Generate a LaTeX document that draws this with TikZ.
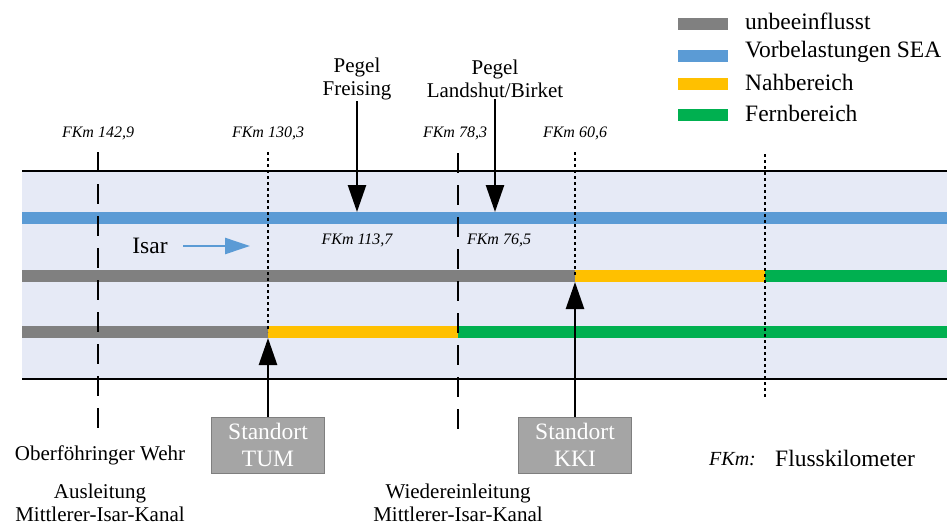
\documentclass[tikz,border=0pt]{standalone}
\usepackage{fontspec}
\setmainfont{Liberation Serif}
\usetikzlibrary{arrows.meta}
\definecolor{grau}{HTML}{808080}
\definecolor{sea}{HTML}{5B9BD5}
\definecolor{nah}{HTML}{FFC000}
\definecolor{fern}{HTML}{00B050}
\definecolor{fluss}{HTML}{E6EAF6}
\definecolor{kasten}{HTML}{A5A5A5}
\definecolor{rand}{HTML}{7F7F7F}

\begin{document}
\begin{tikzpicture}[x=1pt,y=-1pt,
  fkm/.style={font=\fontsize{16}{18}\selectfont\itshape, inner sep=1pt},
  txt/.style={font=\fontsize{21}{23}\selectfont, align=center, inner sep=1pt},
  leg/.style={font=\fontsize{23.5}{26}\selectfont, anchor=west, inner sep=0pt},
  swatch/.style={minimum width=50pt, minimum height=12pt, inner sep=0pt},
  strang/.style={line width=12pt},
  grenze/.style={line width=2.5pt, dash pattern=on 20pt off 12pt},
  punkt/.style={line width=2.5pt, dash pattern=on 3pt off 3pt},
  pfeil/.style={line width=2.5pt, -{Triangle[length=27pt,width=18pt]}},
  standort/.style={draw=rand, fill=kasten, text=white, minimum width=113pt,
    minimum height=56pt, align=center, font=\fontsize{23.5}{27}\selectfont, inner sep=0pt}]

\useasboundingbox (0,0) rectangle (947,525);

% Fluss
\fill[fluss] (22,171) rectangle (947,379);
\draw[line width=2pt] (22,171) -- (947,171);
\draw[line width=2pt] (22,379) -- (947,379);

% Straenge
\coordinate (a0) at (22,218);
\coordinate (a1) at (947,218);
\coordinate (b0) at (22,276);
\coordinate (b1) at (575,276);
\coordinate (b2) at (765,276);
\coordinate (b3) at (947,276);
\coordinate (c0) at (22,332);
\coordinate (c1) at (268,332);
\coordinate (c2) at (458,332);
\coordinate (c3) at (947,332);
\draw[strang, sea] (a0) -- (a1);
\draw[strang, grau] (b0) -- (b1);
\draw[strang, nah] (b1) -- (b2);
\draw[strang, fern] (b2) -- (b3);
\draw[strang, grau] (c0) -- (c1);
\draw[strang, nah] (c1) -- (c2);
\draw[strang, fern] (c2) -- (c3);

% Flusskilometer
\node[fkm] (k1) at (98,133) {FKm 142,9};
\node[fkm] (k2) at (268,133) {FKm 130,3};
\node[fkm] (k3) at (455,133) {FKm 78,3};
\node[fkm] (k4) at (575,133) {FKm 60,6};

\draw[grenze] (98,152) -- (98,428);
\draw[punkt] (268,152) -- (c1);
\draw[grenze] (458,153) -- (458,429);
\draw[punkt] (575,152) -- (b1);
\draw[punkt] (765,154) -- (765,398);

% Pegel
\node[txt] (pf) at (357,79) {Pegel\\Freising};
\node[txt] (pl) at (495,79) {Pegel\\Landshut/Birket};
\coordinate (pf0) at (357,212);
\coordinate (pl0) at (495,212);
\draw[pfeil] (pf.south) -- (pf0);
\draw[pfeil] (pl.south) -- (pl0);
\node[fkm] (k6) at (357,240) {FKm 113,7};
\node[fkm] (k7) at (499,240) {FKm 76,5};

% Isar
\node[font=\fontsize{23.5}{26}\selectfont] (isar) at (150,246) {Isar};
\coordinate (i0) at (183,246);
\coordinate (i1) at (250,246);
\draw[line width=2.5pt, sea, -{Triangle[length=25pt,width=16pt]}] (i0) -- (i1);

% Standorte
\node[standort] (tum) at (268,445) {Standort\\TUM};
\node[standort] (kki) at (575,445) {Standort\\KKI};
\coordinate (tum0) at (268,338);
\coordinate (kki0) at (575,282);
\draw[pfeil] (tum.north) -- (tum0);
\draw[pfeil] (kki.north) -- (kki0);

% Beschriftung unten
\node[txt] (wehr) at (100,455) {Oberföhringer Wehr};
\node[txt] (aus) at (100,503) {Ausleitung\\Mittlerer-Isar-Kanal};
\node[txt] (ein) at (458,503) {Wiedereinleitung\\Mittlerer-Isar-Kanal};
\node[fkm, font=\fontsize{20}{22}\selectfont\itshape, anchor=west] (fk) at (708,459) {FKm:};
\node[leg] (fkt) at (775,458) {Flusskilometer};

% Legende
\node[swatch, fill=grau] (g1) at (703,24) {};
\node[swatch, fill=sea] (g2) at (703,56) {};
\node[swatch, fill=nah] (g3) at (703,84) {};
\node[swatch, fill=fern] (g4) at (703,115) {};
\node[leg] (t1) at (745,21) {unbeeinflusst};
\node[leg] (t2) at (745,52) {Vorbelastungen SEA};
\node[leg] (t3) at (745,82) {Nahbereich};
\node[leg] (t4) at (745,113) {Fernbereich};

\end{tikzpicture}
\end{document}
